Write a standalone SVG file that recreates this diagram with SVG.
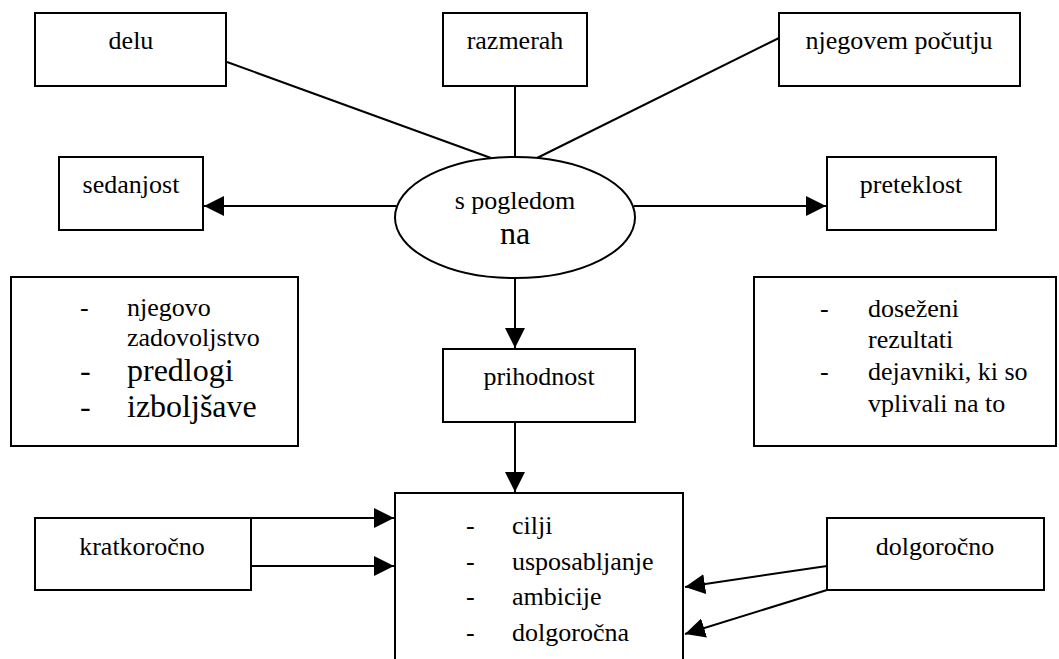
<svg xmlns="http://www.w3.org/2000/svg" width="1059" height="659" viewBox="0 0 1059 659">
  <style>
    .box { fill: #ffffff; stroke: #000000; stroke-width: 2; }
    .edge { fill: none; stroke: #000000; stroke-width: 2; }
    .t { font-family: "Times New Roman", Times, "Liberation Serif", serif; font-size: 26px; fill: #000000; }
    .mid { text-anchor: middle; }
    .big { font-size: 32px; }
  </style>
  <defs>
    <marker id="arrow" markerUnits="userSpaceOnUse" markerWidth="21" markerHeight="20" refX="20" refY="10" orient="auto">
      <path d="M0,0 L20,10 L0,20 z" fill="#000000"/>
    </marker>
  </defs>

  <rect width="1059" height="659" fill="#ffffff"/>

  <!-- connectors -->
  <g id="connectors">
    <line class="edge" x1="227" y1="62" x2="491" y2="158"/>
    <line class="edge" x1="515" y1="86" x2="515" y2="157"/>
    <line class="edge" x1="779" y1="38" x2="537" y2="158"/>
    <line class="edge" x1="396" y1="206" x2="204" y2="206" marker-end="url(#arrow)"/>
    <line class="edge" x1="634" y1="206" x2="826" y2="206" marker-end="url(#arrow)"/>
    <line class="edge" x1="515" y1="278" x2="515" y2="348" marker-end="url(#arrow)"/>
    <line class="edge" x1="515" y1="422" x2="515" y2="492" marker-end="url(#arrow)"/>
    <line class="edge" x1="251" y1="518" x2="394" y2="518" marker-end="url(#arrow)"/>
    <line class="edge" x1="251" y1="566" x2="394" y2="566" marker-end="url(#arrow)"/>
    <line class="edge" x1="827" y1="566" x2="685" y2="587" marker-end="url(#arrow)"/>
    <line class="edge" x1="827" y1="590" x2="685" y2="634" marker-end="url(#arrow)"/>
  </g>

  <!-- top row -->
  <g id="delu">
    <rect class="box" x="35" y="13" width="191" height="73"/>
    <text class="t mid" x="131" y="49">delu</text>
  </g>
  <g id="razmerah">
    <rect class="box" x="443" y="13" width="144" height="73"/>
    <text class="t mid" x="515" y="49">razmerah</text>
  </g>
  <g id="njegovem-pocutju">
    <rect class="box" x="779" y="13" width="241" height="73"/>
    <text class="t mid" x="899" y="49">njegovem počutju</text>
  </g>

  <!-- centre -->
  <g id="s-pogledom-na">
    <ellipse class="box" cx="515" cy="217.5" rx="120" ry="60.5"/>
    <text class="t mid" x="515" y="209">s pogledom</text>
    <text class="t mid big" x="515" y="244">na</text>
  </g>
  <g id="sedanjost">
    <rect class="box" x="59" y="157" width="144" height="73"/>
    <text class="t mid" x="131" y="193">sedanjost</text>
  </g>
  <g id="preteklost">
    <rect class="box" x="827" y="157" width="169" height="73"/>
    <text class="t mid" x="911" y="193">preteklost</text>
  </g>

  <!-- lists -->
  <g id="sedanjost-list">
    <rect class="box" x="11" y="277" width="287" height="169"/>
    <text class="t" x="80" y="316">-</text>
    <text class="t" x="127" y="316">njegovo</text>
    <text class="t" x="127" y="346">zadovoljstvo</text>
    <text class="t big" x="80" y="381">-</text>
    <text class="t big" x="127" y="381">predlogi</text>
    <text class="t big" x="80" y="417">-</text>
    <text class="t big" x="127" y="417">izboljšave</text>
  </g>
  <g id="preteklost-list">
    <rect class="box" x="754" y="277" width="302" height="169"/>
    <text class="t" x="820" y="317">-</text>
    <text class="t" x="868" y="317">doseženi</text>
    <text class="t" x="868" y="348">rezultati</text>
    <text class="t" x="820" y="380">-</text>
    <text class="t" x="868" y="380">dejavniki, ki so</text>
    <text class="t" x="868" y="412">vplivali na to</text>
  </g>

  <g id="prihodnost">
    <rect class="box" x="443" y="349" width="192" height="73"/>
    <text class="t mid" x="539" y="385">prihodnost</text>
  </g>

  <!-- bottom row -->
  <g id="kratkorocno">
    <rect class="box" x="35" y="518" width="216" height="72"/>
    <text class="t mid" x="142" y="555">kratkoročno</text>
  </g>
  <g id="cilji">
    <rect class="box" x="395" y="493" width="288" height="180"/>
    <text class="t" x="466" y="534">-</text>
    <text class="t" x="512" y="534">cilji</text>
    <text class="t" x="466" y="570">-</text>
    <text class="t" x="512" y="570">usposabljanje</text>
    <text class="t" x="466" y="605">-</text>
    <text class="t" x="512" y="605">ambicije</text>
    <text class="t" x="466" y="641">-</text>
    <text class="t" x="512" y="641">dolgoročna</text>
  </g>
  <g id="dolgorocno">
    <rect class="box" x="827" y="518" width="217" height="72"/>
    <text class="t mid" x="935" y="555">dolgoročno</text>
  </g>
</svg>
